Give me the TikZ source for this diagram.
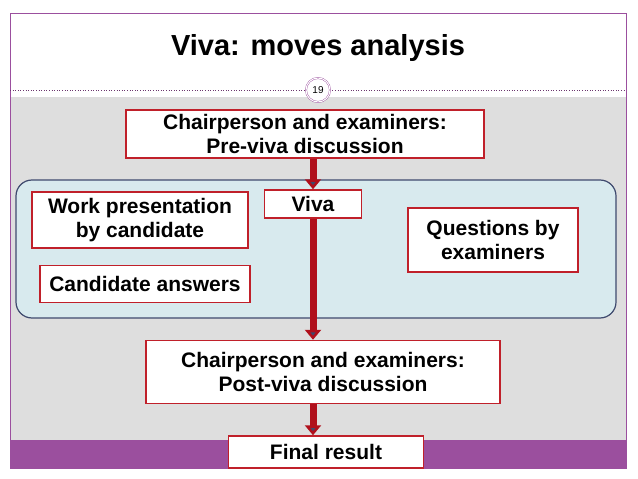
\documentclass[tikz,border=0pt]{standalone}
\usepackage{fontspec}
\setmainfont{Liberation Sans}
\usetikzlibrary{arrows.meta}
\definecolor{boxred}{HTML}{C0202A}
\definecolor{arrred}{HTML}{B0101C}
\definecolor{purp}{HTML}{9B4F9E}
\definecolor{bgray}{HTML}{DEDEDE}
\definecolor{lblue}{HTML}{D8EAEE}
\definecolor{dslate}{HTML}{3F4A6E}
\tikzset{
  bx/.style={draw=boxred, line width=1.5pt, fill=white, font=\bfseries\fontsize{21}{24}\selectfont, align=center, inner sep=0pt},
  arr/.style={line width=7pt, draw=arrred, -{Triangle[length=10pt,width=16pt,fill=dslate]}},
}
\begin{document}
\begin{tikzpicture}[x=1pt,y=-1pt]
\useasboundingbox (0,0) rectangle (638,479);
\fill[white] (0,0) rectangle (638,479);
\fill[bgray] (10,97) rectangle (626,440);
\fill[purp] (10,440) rectangle (626,468);
\draw[purp, line width=0.8pt] (10,13) rectangle (626,468);
\node[font=\bfseries\fontsize{29}{34}\selectfont] (title) at (318,48) {Viva: moves analysis};
\draw[purp!70!black, dotted, line width=0.6pt] (10,90) -- (626,90);
\node[circle, draw=purp, double=white, double distance=1pt, fill=white, minimum size=24pt, inner sep=0pt, font=\fontsize{10}{10}\selectfont\rmfamily] (num) at (318,90) {19};
\draw[dslate, line width=1.2pt, fill=lblue, rounded corners=16pt] (16,180) rectangle (616,318);
\node[bx, minimum width=358pt, minimum height=48pt] (pre) at (305,134) {Chairperson and examiners:\\Pre-viva discussion};
\node[bx, minimum width=97pt, minimum height=28pt] (viva) at (313,204) {Viva};
\node[bx, minimum width=216pt, minimum height=56pt] (work) at (140,220) {Work presentation\\by candidate};
\node[bx, minimum width=210pt, minimum height=37pt] (ans) at (145,284) {Candidate answers};
\node[bx, minimum width=170pt, minimum height=64pt] (q) at (493,240) {Questions by\\examiners};
\node[bx, minimum width=354pt, minimum height=63pt] (post) at (323,372) {Chairperson and examiners:\\Post-viva discussion};
\node[bx, minimum width=195pt, minimum height=32pt] (fin) at (326,452) {Final result};
\draw[arr] (pre.south -| viva) -- (viva.north);
\draw[arr] (viva.south) -- (viva.south |- post.north);
\draw[arr] (viva.south |- post.south) -- (viva.south |- fin.north);
\end{tikzpicture}
\end{document}
